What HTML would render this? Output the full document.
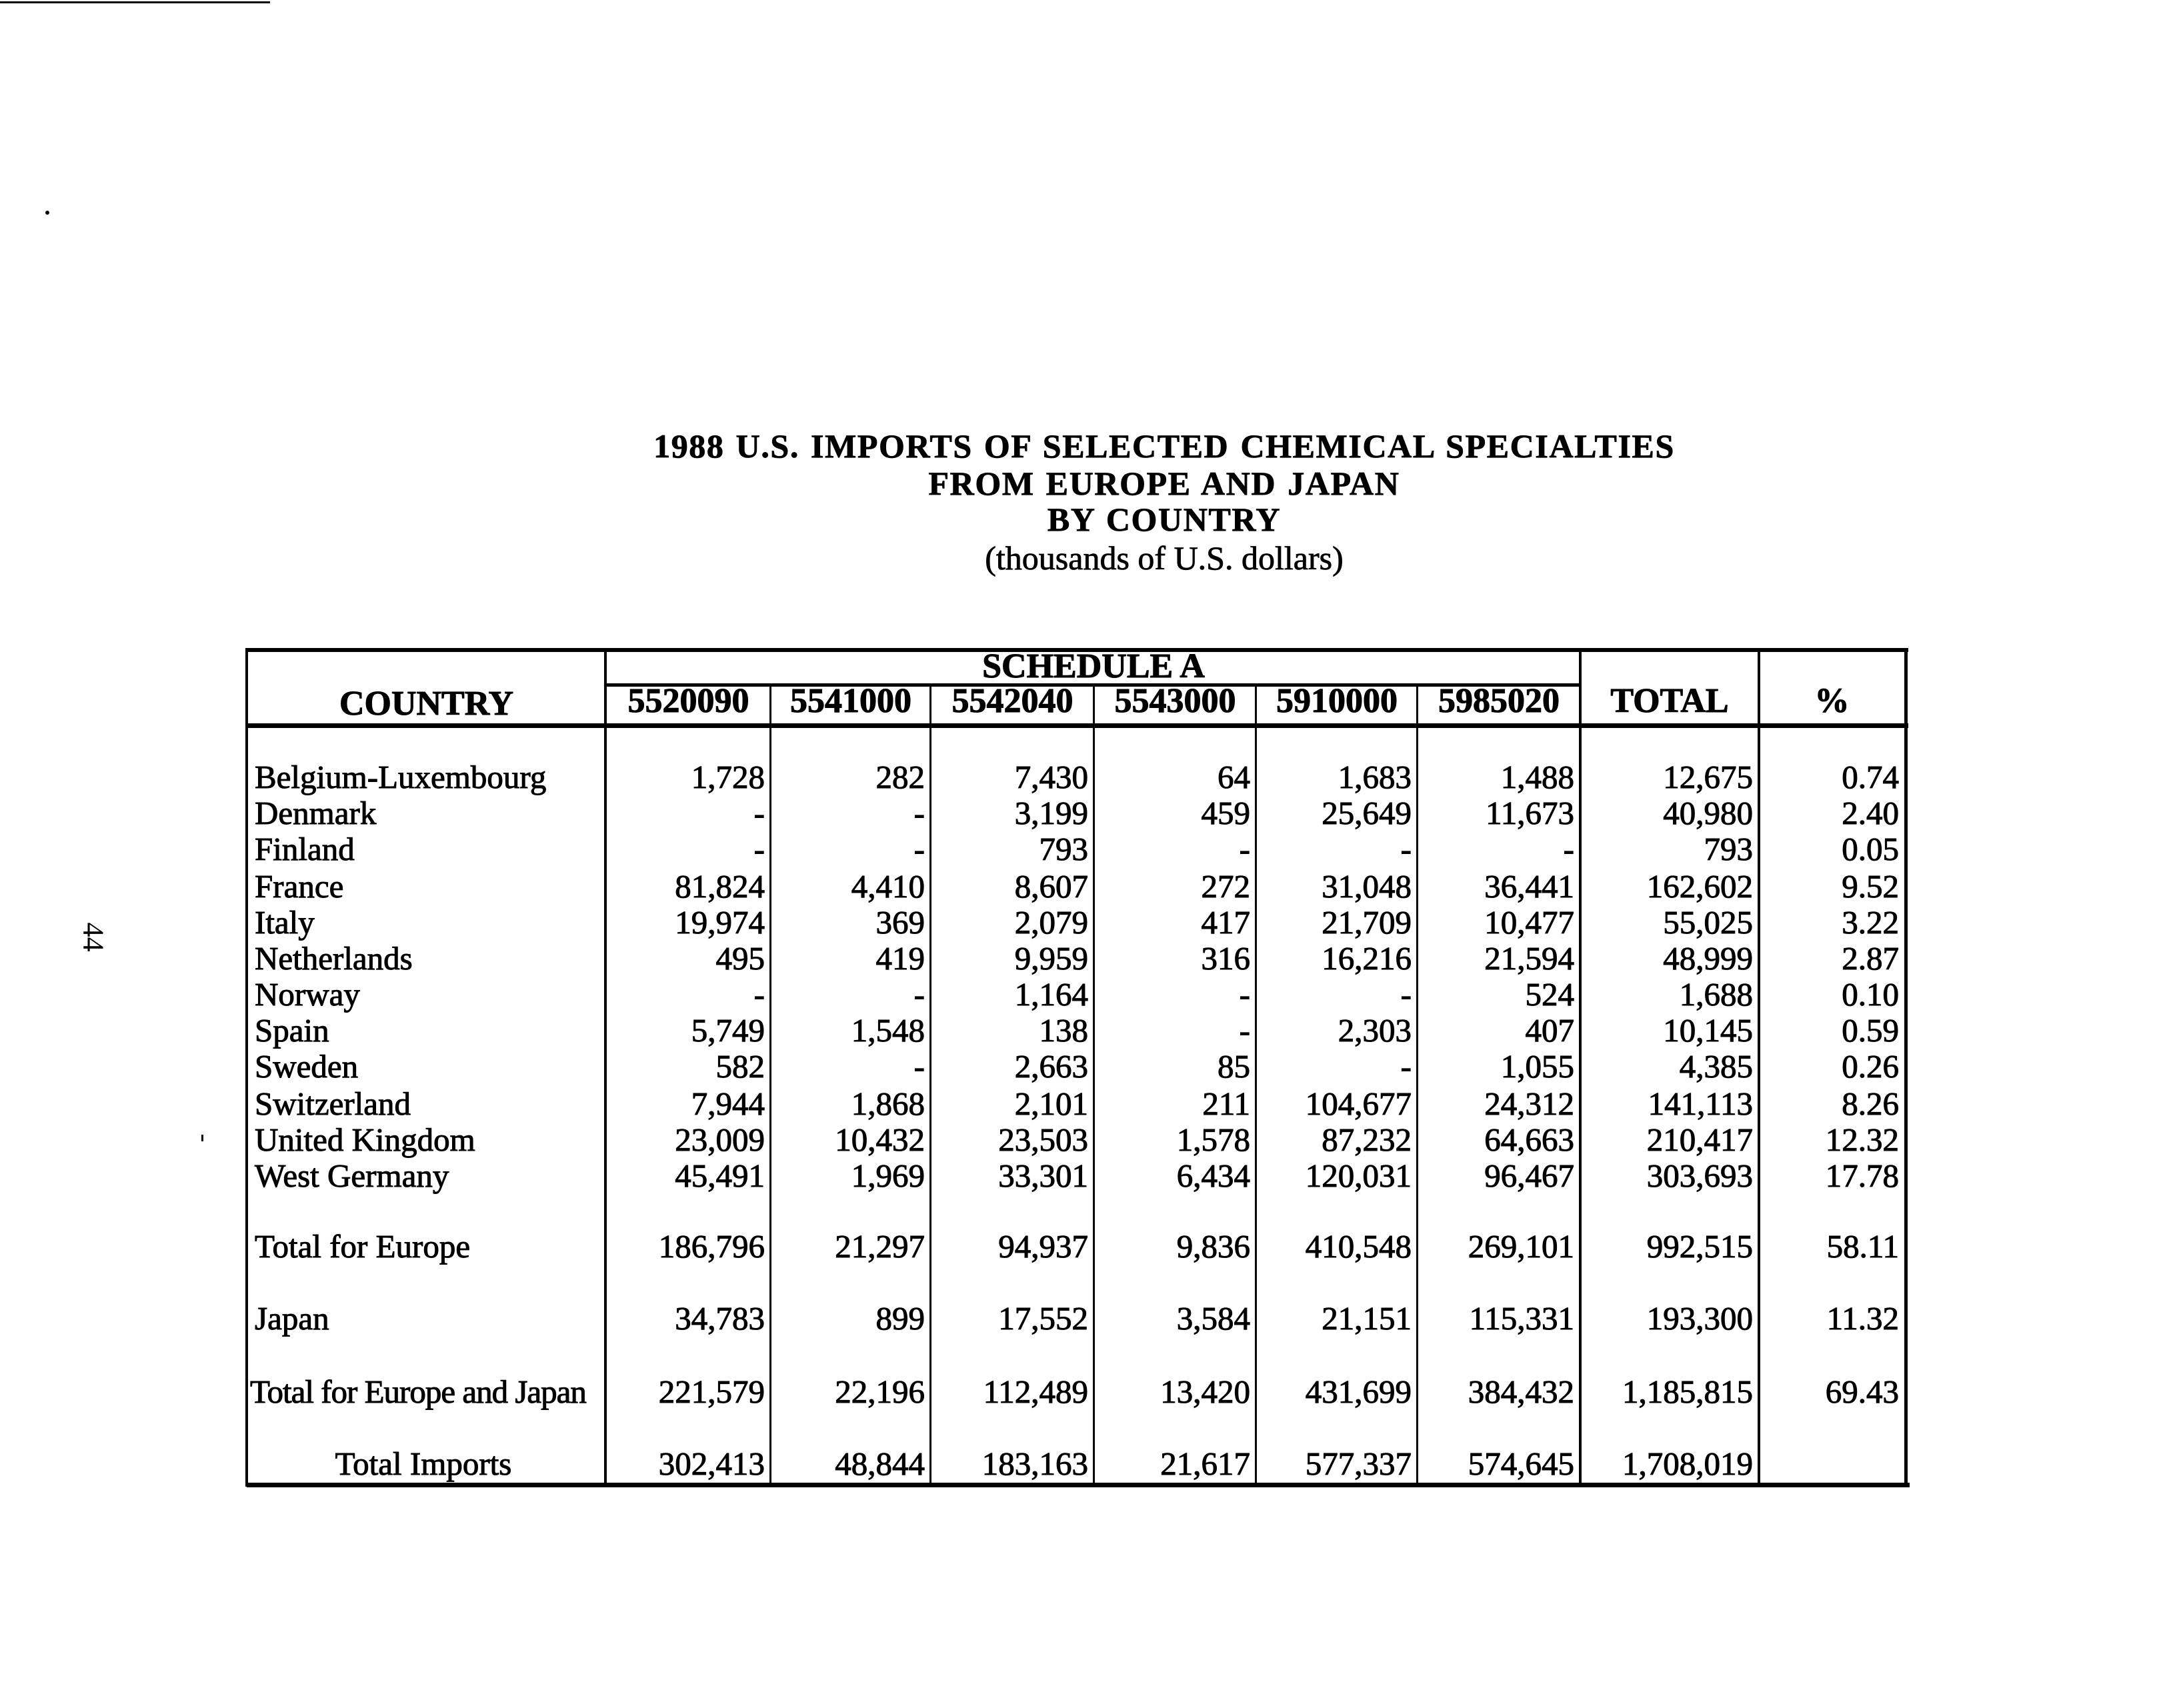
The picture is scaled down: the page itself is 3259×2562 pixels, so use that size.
<!DOCTYPE html>
<html><head><meta charset="utf-8"><style>
body{margin:0;width:3259px;height:2562px;background:#fff;position:relative;overflow:hidden;font-family:"Liberation Serif",serif;color:#000}
.t{position:absolute;left:0;width:3492px;text-align:center;font-weight:bold;font-size:50px;line-height:56px;letter-spacing:1.6px;word-spacing:3px;-webkit-text-stroke:0.8px #000}
.l{position:absolute;background:#000}
.r{position:absolute;left:370px;display:flex;height:56px;line-height:56px;font-size:49px;-webkit-text-stroke:1px #000}
.r div{text-align:right;padding-right:9px;box-sizing:border-box}
.r div:first-child{text-align:left;padding-left:12px;width:539px}
.r div:nth-child(2){width:247px}.r div:nth-child(3){width:240px}.r div:nth-child(4){width:245px}
.r div:nth-child(5){width:243px}.r div:nth-child(6){width:242px}.r div:nth-child(7){width:244px}
.r div:nth-child(8){width:268px}.r div:nth-child(9){width:219px}
.h{position:absolute;font-weight:bold;font-size:52px;line-height:56px;text-align:center;-webkit-text-stroke:1px #000}
</style></head><body>
<div class="l" style="left:0;top:2px;width:405px;height:3px"></div>
<div class="t" style="top:641px">1988 U.S. IMPORTS OF SELECTED CHEMICAL SPECIALTIES</div>
<div class="t" style="top:697px">FROM EUROPE AND JAPAN</div>
<div class="t" style="top:751px">BY COUNTRY</div>
<div class="t" style="top:809px;font-weight:normal;letter-spacing:0;word-spacing:0">(thousands of U.S. dollars)</div>
<div style="position:absolute;left:118px;top:1380px;font-size:44px;transform:rotate(90deg)">44</div>
<div class="l" style="left:68px;top:316px;width:6px;height:6px;border-radius:3px"></div>
<div class="l" style="left:302px;top:1702px;width:3px;height:10px"></div>

<div class="l" style="left:368px;top:972px;width:2494px;height:6px"></div>
<div class="l" style="left:368px;top:1085px;width:2494px;height:7px"></div>
<div class="l" style="left:370px;top:2224px;width:2494px;height:7px"></div>
<div class="l" style="left:907px;top:1025px;width:1465px;height:5px"></div>
<div class="l" style="left:368px;top:972px;width:4px;height:1258px"></div>
<div class="l" style="left:906px;top:972px;width:4px;height:1258px"></div>
<div class="l" style="left:2368px;top:972px;width:4px;height:1258px"></div>
<div class="l" style="left:2636px;top:972px;width:4px;height:1258px"></div>
<div class="l" style="left:2856px;top:972px;width:5px;height:1258px"></div>
<div class="l" style="left:1154px;top:1028px;width:3px;height:1200px"></div>
<div class="l" style="left:1394px;top:1028px;width:3px;height:1200px"></div>
<div class="l" style="left:1639px;top:1028px;width:3px;height:1200px"></div>
<div class="l" style="left:1882px;top:1028px;width:3px;height:1200px"></div>
<div class="l" style="left:2124px;top:1028px;width:3px;height:1200px"></div>

<div class="h" style="left:910px;width:1460px;top:972px">SCHEDULE A</div>
<div class="h" style="left:370px;width:539px;top:1028px">COUNTRY</div>
<div class="h" style="left:909px;width:247px;top:1024px">5520090</div>
<div class="h" style="left:1156px;width:240px;top:1024px">5541000</div>
<div class="h" style="left:1396px;width:245px;top:1024px">5542040</div>
<div class="h" style="left:1641px;width:243px;top:1024px">5543000</div>
<div class="h" style="left:1884px;width:242px;top:1024px">5910000</div>
<div class="h" style="left:2126px;width:244px;top:1024px">5985020</div>
<div class="h" style="left:2370px;width:268px;top:1024px">TOTAL</div>
<div class="h" style="left:2638px;width:219px;top:1024px">%</div>

<div class="r" style="top:1138px"><div>Belgium-Luxembourg</div><div>1,728</div><div>282</div><div>7,430</div><div>64</div><div>1,683</div><div>1,488</div><div>12,675</div><div>0.74</div></div>
<div class="r" style="top:1192px"><div>Denmark</div><div>-</div><div>-</div><div>3,199</div><div>459</div><div>25,649</div><div>11,673</div><div>40,980</div><div>2.40</div></div>
<div class="r" style="top:1246px"><div>Finland</div><div>-</div><div>-</div><div>793</div><div>-</div><div>-</div><div>-</div><div>793</div><div>0.05</div></div>
<div class="r" style="top:1302px"><div>France</div><div>81,824</div><div>4,410</div><div>8,607</div><div>272</div><div>31,048</div><div>36,441</div><div>162,602</div><div>9.52</div></div>
<div class="r" style="top:1356px"><div>Italy</div><div>19,974</div><div>369</div><div>2,079</div><div>417</div><div>21,709</div><div>10,477</div><div>55,025</div><div>3.22</div></div>
<div class="r" style="top:1410px"><div>Netherlands</div><div>495</div><div>419</div><div>9,959</div><div>316</div><div>16,216</div><div>21,594</div><div>48,999</div><div>2.87</div></div>
<div class="r" style="top:1464px"><div>Norway</div><div>-</div><div>-</div><div>1,164</div><div>-</div><div>-</div><div>524</div><div>1,688</div><div>0.10</div></div>
<div class="r" style="top:1518px"><div>Spain</div><div>5,749</div><div>1,548</div><div>138</div><div>-</div><div>2,303</div><div>407</div><div>10,145</div><div>0.59</div></div>
<div class="r" style="top:1572px"><div>Sweden</div><div>582</div><div>-</div><div>2,663</div><div>85</div><div>-</div><div>1,055</div><div>4,385</div><div>0.26</div></div>
<div class="r" style="top:1628px"><div>Switzerland</div><div>7,944</div><div>1,868</div><div>2,101</div><div>211</div><div>104,677</div><div>24,312</div><div>141,113</div><div>8.26</div></div>
<div class="r" style="top:1682px"><div>United Kingdom</div><div>23,009</div><div>10,432</div><div>23,503</div><div>1,578</div><div>87,232</div><div>64,663</div><div>210,417</div><div>12.32</div></div>
<div class="r" style="top:1736px"><div>West Germany</div><div>45,491</div><div>1,969</div><div>33,301</div><div>6,434</div><div>120,031</div><div>96,467</div><div>303,693</div><div>17.78</div></div>
<div class="r" style="top:1842px"><div>Total for Europe</div><div>186,796</div><div>21,297</div><div>94,937</div><div>9,836</div><div>410,548</div><div>269,101</div><div>992,515</div><div>58.11</div></div>
<div class="r" style="top:1950px"><div>Japan</div><div>34,783</div><div>899</div><div>17,552</div><div>3,584</div><div>21,151</div><div>115,331</div><div>193,300</div><div>11.32</div></div>
<div class="r" style="top:2060px"><div style="padding-left:5px;letter-spacing:-1px">Total for Europe and Japan</div><div>221,579</div><div>22,196</div><div>112,489</div><div>13,420</div><div>431,699</div><div>384,432</div><div>1,185,815</div><div>69.43</div></div>
<div class="r" style="top:2168px"><div style="text-align:center;padding-left:0">Total Imports</div><div>302,413</div><div>48,844</div><div>183,163</div><div>21,617</div><div>577,337</div><div>574,645</div><div>1,708,019</div><div></div></div>
</body></html>
